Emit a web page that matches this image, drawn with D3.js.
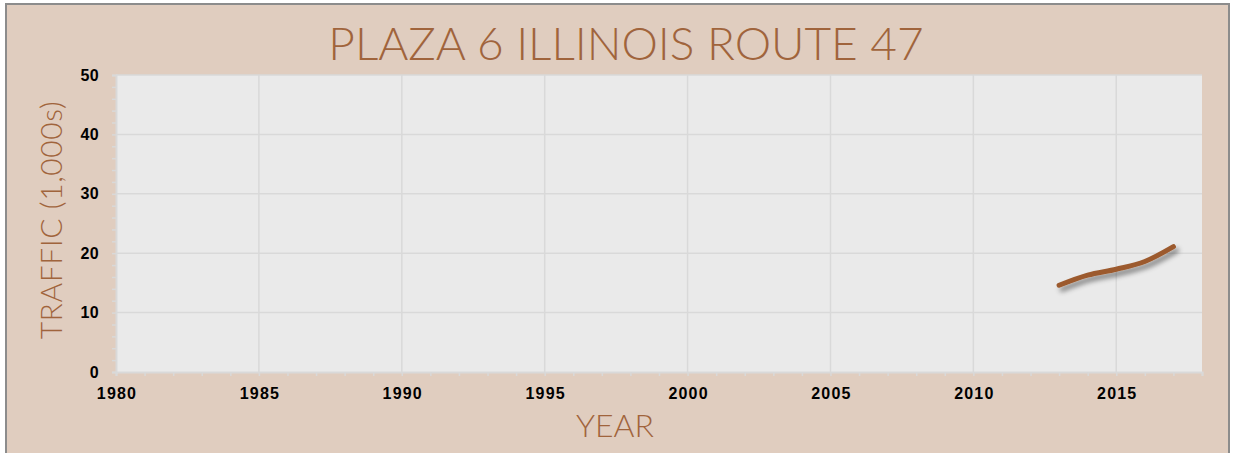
<!DOCTYPE html>
<html>
<head>
<meta charset="utf-8">
<script src="https://cdn.jsdelivr.net/npm/d3@7"></script>
<style>
  body { margin: 0; background: #fff; }
  .tick-label { font-family: "Liberation Sans", Arial, sans-serif; font-weight: bold; }
  .axis-title { font-family: Lato, "Open Sans", sans-serif; font-weight: 300; }
</style>
</head>
<body>
<div class="vis-line"></div>
<script>
const years = [2013, 2014, 2015, 2016, 2017];
const traffic = [14.6, 16.3, 17.3, 18.6, 21.1];
const xTicks = [1980, 1985, 1990, 1995, 2000, 2005, 2010, 2015];
const yTicks = [0, 10, 20, 30, 40, 50];

const W = 1233, H = 453;
const margin = { top: 75, right: 31, bottom: 81, left: 116 };
const width = W - margin.left - margin.right;
const height = H - margin.top - margin.bottom;
const brown = '#A0643C';

const root = d3.select('.vis-line')
  .append('svg')
  .attr('width', W)
  .attr('height', H);

// chart background and frame
root.append('rect')
  .attr('x', 6).attr('y', 4)
  .attr('width', W - 10).attr('height', H)
  .attr('fill', '#E0CDBF')
  .attr('stroke', '#8c8c8c')
  .attr('stroke-width', 2);

const defs = root.append('defs');
const f = defs.append('filter').attr('id', 'shadow')
  .attr('x', '-10%').attr('y', '-50%').attr('width', '130%').attr('height', '200%');
f.append('feDropShadow')
  .attr('dx', 3).attr('dy', 4).attr('stdDeviation', 2.5)
  .attr('flood-color', '#000').attr('flood-opacity', 0.45);

const svg = root.append('g')
  .attr('transform', `translate(${margin.left},${margin.top})`);

const x = d3.scaleLinear().domain([1980, 2018]).range([0, width]);
const y = d3.scaleLinear().domain([0, 50]).range([height, 0]);

svg.append('rect')
  .attr('width', width).attr('height', height)
  .attr('fill', '#EAEAEA');

// gridlines
svg.append('g')
  .selectAll('line')
  .data(yTicks.slice(1))
  .enter().append('line')
  .attr('x1', 0).attr('x2', width)
  .attr('y1', (d) => y(d)).attr('y2', (d) => y(d))
  .attr('stroke', '#D9D9D9').attr('stroke-width', 1.5);

svg.append('g')
  .selectAll('line')
  .data(xTicks.slice(1))
  .enter().append('line')
  .attr('x1', (d) => x(d)).attr('x2', (d) => x(d))
  .attr('y1', 0).attr('y2', height)
  .attr('stroke', '#D9D9D9').attr('stroke-width', 1.5);

// minor ticks
const xMinor = d3.range(1980, 2019);
const yMinor = d3.range(0, 51, 2);

const xAxis = svg.append('g')
  .attr('transform', `translate(0,${height})`)
  .call(d3.axisBottom(x).tickValues(xMinor).tickSize(4).tickFormat(''));
xAxis.selectAll('line').attr('stroke', '#D9D9D9').attr('stroke-width', 1.5);
xAxis.select('.domain').attr('stroke', '#D9D9D9').attr('stroke-width', 2);

const yAxis = svg.append('g')
  .call(d3.axisLeft(y).tickValues(yMinor).tickSize(4).tickFormat(''));
yAxis.selectAll('line').attr('stroke', '#D9D9D9').attr('stroke-width', 1.5);
yAxis.select('.domain').attr('stroke', '#D9D9D9').attr('stroke-width', 2);

// tick labels
svg.append('g')
  .selectAll('text')
  .data(xTicks)
  .enter().append('text')
  .attr('class', 'tick-label')
  .attr('x', (d) => x(d) + 1)
  .attr('y', height + 27)
  .attr('text-anchor', 'middle')
  .attr('font-size', 16)
  .attr('letter-spacing', 1.2)
  .text((d) => d);

svg.append('g')
  .selectAll('text')
  .data(yTicks)
  .enter().append('text')
  .attr('class', 'tick-label')
  .attr('x', -17)
  .attr('y', (d) => y(d) + 5.5)
  .attr('text-anchor', 'end')
  .attr('font-size', 16)
  .attr('letter-spacing', 0.4)
  .text((d) => d);

// line
const line = d3.line()
  .x((d, i) => x(years[i]))
  .y((d) => y(d))
  .curve(d3.curveMonotoneX);

svg.append('path')
  .datum(traffic)
  .attr('d', line)
  .attr('fill', 'none')
  .attr('stroke', '#9C5A2E')
  .attr('stroke-width', 5)
  .attr('stroke-linecap', 'round')
  .attr('filter', 'url(#shadow)');

// titles
root.append('text')
  .attr('class', 'axis-title')
  .attr('x', 626).attr('y', 60)
  .attr('text-anchor', 'middle')
  .attr('font-size', 46)
  .attr('fill', brown)
  .text('PLAZA 6 ILLINOIS ROUTE 47');

root.append('text')
  .attr('class', 'axis-title')
  .attr('x', 615).attr('y', 437)
  .attr('text-anchor', 'middle')
  .attr('font-size', 32)
  .attr('fill', brown)
  .text('YEAR');

root.append('text')
  .attr('class', 'axis-title')
  .attr('transform', 'translate(62,220) rotate(-90)')
  .attr('text-anchor', 'middle')
  .attr('font-size', 30)
  .attr('letter-spacing', 0.6)
  .attr('fill', brown)
  .text('TRAFFIC (1,000s)');
</script>
</body>
</html>
